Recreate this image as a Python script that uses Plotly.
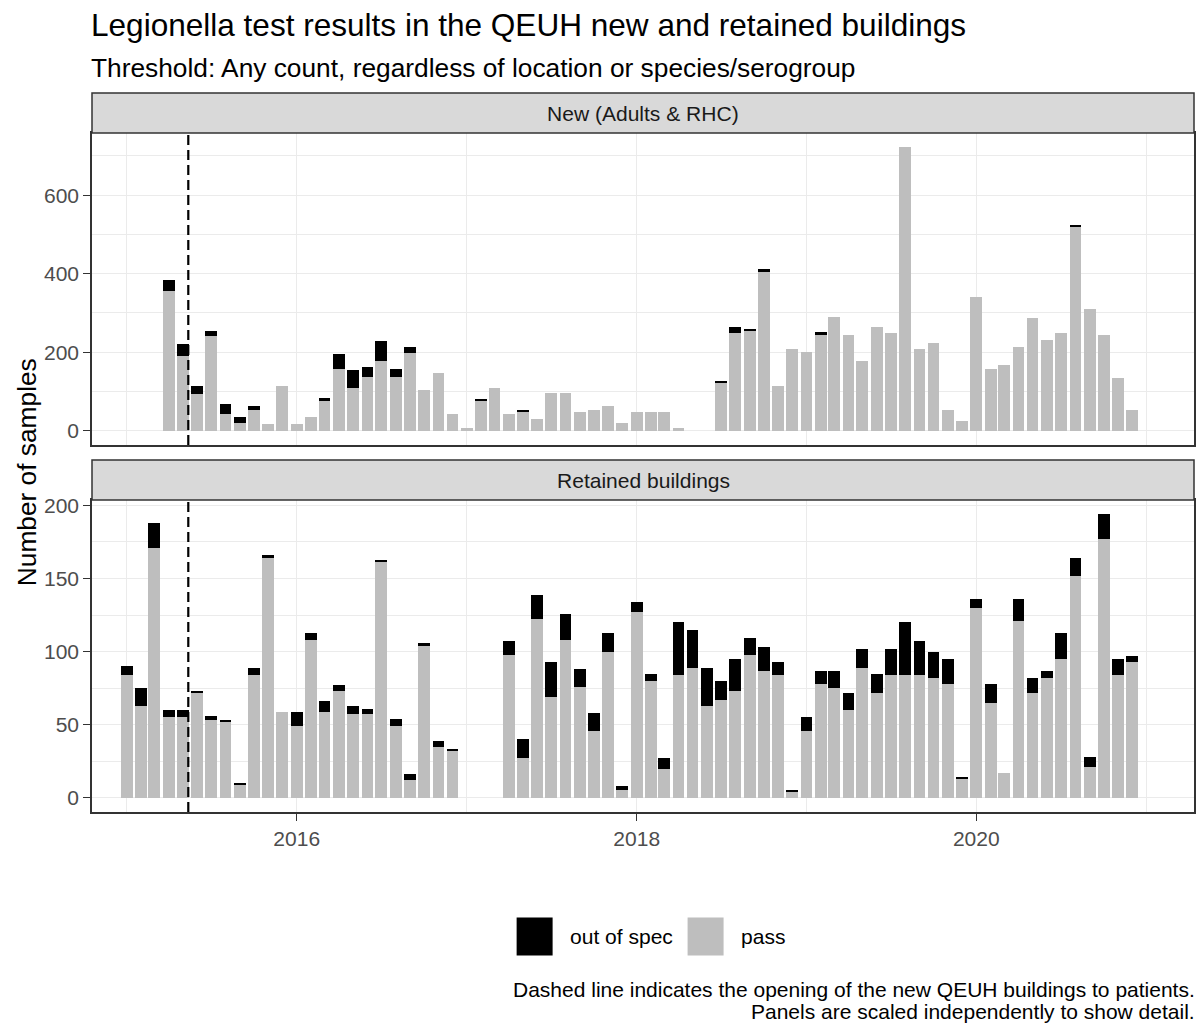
import pandas as pd
import plotly.graph_objects as go

# monthly sample counts, Jan 2015 - Dec 2020 (None = no sampling that month)
months = pd.date_range("2015-01-01", "2020-12-01", freq="MS")

new_pass = [
    None, None, None, 356, 191, 93, 241, 44, 21, 52, 17, 113,      # 2015
    17, 36, 76, 158, 108, 136, 177, 136, 199, 103, 148, 44,        # 2016
    7, 76, 108, 44, 47, 30, 95, 95, 48, 53, 63, 21,                # 2017
    48, 48, 48, 7, None, None, 121, 250, 254, 405, 113, 209,       # 2018
    201, 244, 290, 244, 177, 264, 250, 722, 209, 223, 53, 25,      # 2019
    341, 158, 168, 213, 286, 232, 250, 519, 309, 245, 135, 53,     # 2020
]
new_out = [
    None, None, None, 27, 31, 20, 14, 23, 15, 10, 0, 0,
    0, 0, 8, 37, 46, 27, 51, 22, 15, 0, 0, 0,
    0, 6, 0, 0, 6, 0, 0, 0, 0, 0, 0, 0,
    0, 0, 0, 0, None, None, 6, 15, 6, 6, 0, 0,
    0, 7, 0, 0, 0, 0, 0, 0, 0, 0, 0, 0,
    0, 0, 0, 0, 0, 0, 0, 6, 0, 0, 0, 0,
]

ret_pass = [
    84, 63, 171, 55, 55, 72, 53, 52, 9, 84, 164, 59,
    49, 108, 59, 73, 57, 57, 161, 49, 12, 104, 35, 32,
    None, None, None, 98, 27, 122, 69, 108, 76, 46, 100, 5,
    127, 80, 20, 84, 89, 63, 67, 73, 98, 87, 84, 4,
    46, 78, 75, 60, 89, 72, 84, 84, 84, 82, 78, 13,
    130, 65, 17, 121, 72, 82, 95, 152, 21, 177, 84, 93,
]
ret_out = [
    6, 12, 17, 5, 5, 1, 3, 1, 1, 5, 2, 0,
    10, 5, 7, 4, 6, 4, 2, 5, 4, 2, 4, 1,
    None, None, None, 9, 13, 17, 24, 18, 12, 12, 13, 3,
    7, 5, 7, 36, 26, 26, 13, 22, 11, 16, 9, 1,
    9, 9, 12, 12, 13, 13, 18, 36, 23, 18, 17, 1,
    6, 13, 0, 15, 10, 5, 18, 12, 7, 17, 11, 4,
]

panel_names = ["New (Adults & RHC)", "Retained buildings"]
status_names = ["out of spec", "pass"]
status_colors = {"out of spec": "#000000", "pass": "#BEBEBE"}
opening_date = "2015-05-13"

title = "Legionella test results in the QEUH new and retained buildings"
subtitle = "Threshold: Any count, regardless of location or species/serogroup"
caption = ["Dashed line indicates the opening of the new QEUH buildings to patients.",
           "Panels are scaled independently to show detail."]

# page geometry (pixels), ggplot-like facet layout
W, H = 1196, 1025
left, right, top, bottom = 92.3, 1194.5, 93.3, 811.7
strip_h = 40
top_panel = (133.3, 445.0)
bot_strip = (460.0, 500.0)
bot_panel = (500.0, bottom)
FONT = "Liberation Sans, Arial, Helvetica, sans-serif"
BASE = 26.3           # 11pt at this scale
SMALL = BASE * 0.8


def px(x):
    return (x - left) / (right - left)


def py(y):
    return (bottom - y) / (bottom - top)


def y_range(pas, out):
    tot = max((p or 0) + (o or 0) for p, o in zip(pas, out))
    return [-0.05 * tot, 1.05 * tot]


bar_width = 25.2 * 86400000  # 0.9 * 28 days, in ms

fig = go.Figure()
for (pas, out), xa, ya in [((new_pass, new_out), "x", "y"), ((ret_pass, ret_out), "x2", "y2")]:
    fig.add_trace(go.Bar(x=months, y=pas, name="pass", width=bar_width,
                         marker=dict(color=status_colors["pass"], line_width=0),
                         xaxis=xa, yaxis=ya, showlegend=False))
    fig.add_trace(go.Bar(x=months, y=out, name="out of spec", width=bar_width,
                         marker=dict(color=status_colors["out of spec"], line_width=0),
                         xaxis=xa, yaxis=ya, showlegend=False))

grid = dict(showgrid=True, gridcolor="#EBEBEB", gridwidth=1.3, zeroline=False,
            showline=True, mirror=True, linecolor="#333333", linewidth=1.5,
            tickfont=dict(size=SMALL, color="#4D4D4D", family=FONT),
            ticks="outside", ticklen=7, tickcolor="#333333", tickwidth=1.3)
x_common = dict(grid, type="date", range=["2014-10-18", "2021-04-13"],
                dtick="M24", tick0="2016-01-01", tickformat="%Y",
                minor=dict(dtick="M12", tick0="2015-01-01", showgrid=True,
                           gridcolor="#EBEBEB", gridwidth=0.65))

fig.update_layout(
    xaxis=dict(x_common, anchor="y", showticklabels=False, ticks="", matches="x2"),
    xaxis2=dict(x_common, anchor="y2"),
    yaxis=dict(grid, anchor="x", domain=[py(top_panel[1]), py(top_panel[0])],
               range=y_range(new_pass, new_out), dtick=200, tick0=0,
               minor=dict(dtick=100, showgrid=True, gridcolor="#EBEBEB", gridwidth=0.65)),
    yaxis2=dict(grid, anchor="x2", domain=[0, py(bot_panel[0])],
                range=y_range(ret_pass, ret_out), dtick=50, tick0=0,
                minor=dict(dtick=25, showgrid=True, gridcolor="#EBEBEB", gridwidth=0.65)),
    barmode="stack",
    bargap=0,
    width=W, height=H, autosize=False,
    margin=dict(l=left, r=W - right, t=top, b=H - bottom, pad=0),
    paper_bgcolor="white", plot_bgcolor="white",
    font=dict(family=FONT, color="black"),
    showlegend=False,
)

# facet strips
for name, (y0, y1) in zip(panel_names, [(top, top + strip_h), bot_strip]):
    fig.add_shape(type="rect", xref="paper", yref="paper", x0=0, x1=1,
                  y0=py(y1), y1=py(y0), fillcolor="#D9D9D9",
                  line=dict(color="#333333", width=1.5), layer="above")
    fig.add_annotation(text=name, xref="paper", yref="paper", x=0.5, y=py((y0 + y1) / 2),
                       showarrow=False, font=dict(size=SMALL, color="#1A1A1A"),
                       xanchor="center", yanchor="middle")

# opening of the new buildings
for ya in ["y", "y2"]:
    fig.add_shape(type="line", xref="x" if ya == "y" else "x2", yref=ya + " domain",
                  x0=opening_date, x1=opening_date, y0=0, y1=1,
                  line=dict(color="black", width=2.2, dash="10px,5px"))

# titles and axis label
fig.add_annotation(text=title, xref="paper", yref="paper", x=px(89), y=py(25),
                   xanchor="left", yanchor="middle", showarrow=False,
                   font=dict(size=BASE * 1.2))
fig.add_annotation(text=subtitle, xref="paper", yref="paper", x=px(89), y=py(68),
                   xanchor="left", yanchor="middle", showarrow=False,
                   font=dict(size=BASE))
fig.add_annotation(text="Number of samples", xref="paper", yref="paper", x=px(27),
                   y=py((top_panel[0] + bottom) / 2), textangle=-90,
                   xanchor="center", yanchor="middle", showarrow=False,
                   font=dict(size=BASE))

# legend drawn as keys + labels below the panels
key_y0, key_y1 = 917, 955
for name, kx, tx in zip(status_names, [517, 688], [568, 739]):
    fig.add_shape(type="rect", xref="paper", yref="paper", x0=px(kx), x1=px(kx + 36),
                  y0=py(key_y1), y1=py(key_y0), fillcolor=status_colors[name], line_width=0)
    fig.add_annotation(text=name, xref="paper", yref="paper", x=px(tx), y=py(936),
                       xanchor="left", yanchor="middle", showarrow=False,
                       font=dict(size=SMALL))

for line, yc in zip(caption, [989, 1011]):
    fig.add_annotation(text=line, xref="paper", yref="paper", x=px(1198), y=py(yc),
                       xanchor="right", yanchor="middle", showarrow=False,
                       font=dict(size=21))

fig.write_html("out.html", config={"displayModeBar": False},
               post_script="document.body.style.margin='0';")
